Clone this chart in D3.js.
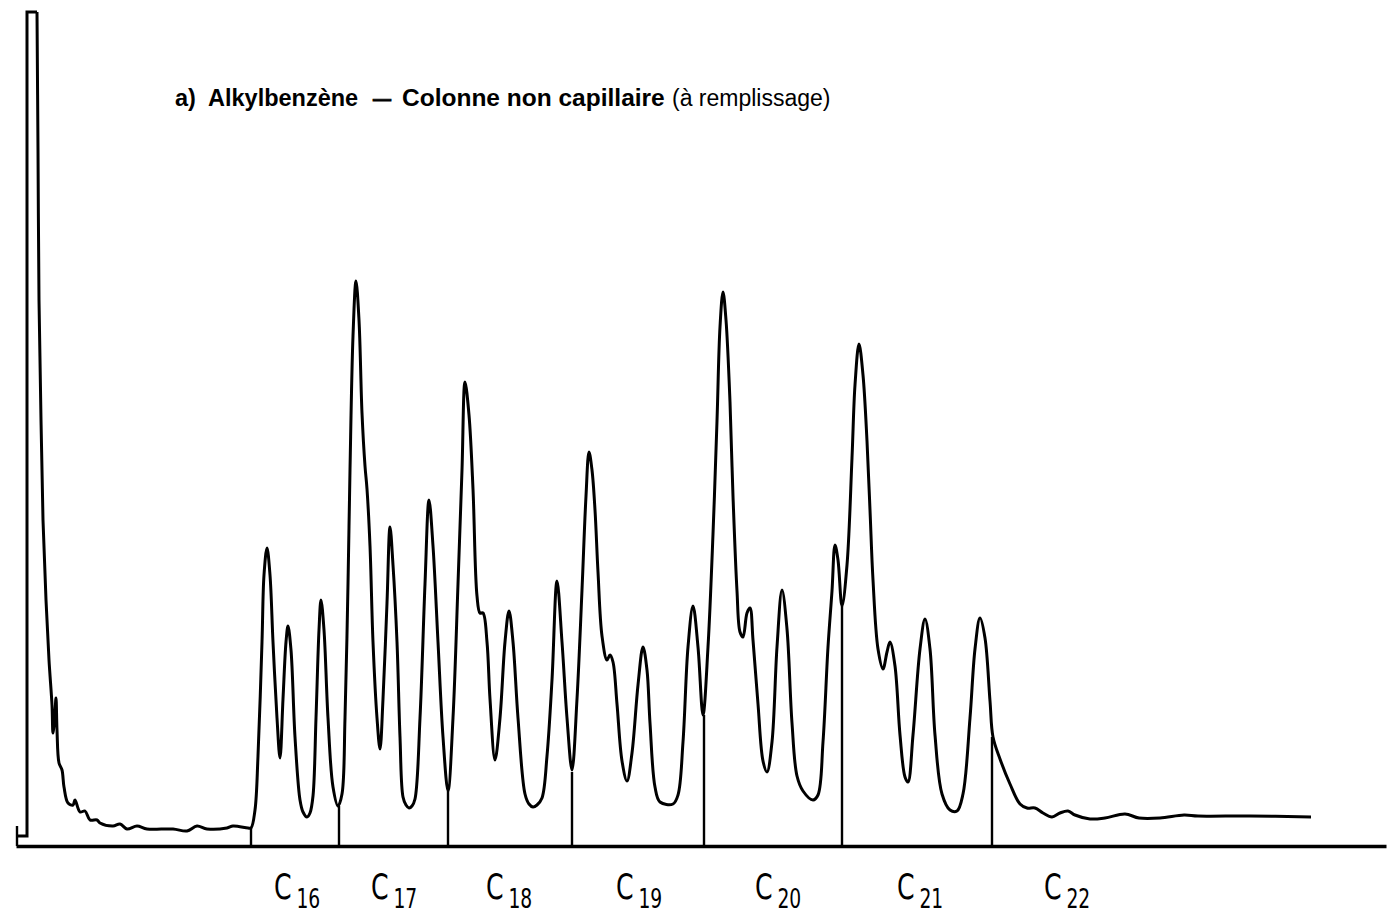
<!DOCTYPE html>
<html>
<head>
<meta charset="utf-8">
<script src="https://cdn.jsdelivr.net/npm/d3@7"></script>
<style>
  body { margin: 0; background: #fff; }
  svg { display: block; }
</style>
</head>
<body>
<script>
// chromatogram, retention time in arbitrary chart units, signal in % of full scale
var traceTime = [
  2.1, 2.2, 2.3, 2.5, 2.7, 3.0, 3.3, 3.6, 3.7, 3.9,
  4.0, 4.1, 4.3, 4.6, 4.8, 5.2, 5.7, 5.9, 6.4, 6.9,
  7.4, 8.1, 8.4, 9.7, 10.4, 11.1, 12.1, 13.1, 15.7, 17.1,
  18.1, 19.1, 21.1, 21.7, 23.2, 23.5, 23.9, 24.2, 24.6, 24.8,
  25.1, 25.4, 25.7, 26.1, 26.4, 26.7, 27.0, 27.2, 27.5, 27.9,
  28.4, 28.7, 29.1, 29.4, 29.7, 30.0, 30.3, 30.5, 30.8, 31.2,
  31.7, 32.2, 32.6, 32.9, 33.2, 33.4, 33.7, 34.0, 34.3, 34.6,
  34.9, 35.1, 35.4, 35.7, 36.1, 36.4, 36.7, 37.1, 37.4, 37.7,
  38.1, 38.4, 38.7, 39.0, 39.3, 39.6, 39.9, 40.4, 40.9, 41.3,
  41.7, 42.2, 42.7, 43.2, 43.7, 44.2, 44.6, 44.9, 45.3, 45.7,
  46.1, 46.4, 46.7, 47.1, 47.4, 47.9, 48.4, 48.9, 49.3, 49.7,
  50.2, 50.9, 51.3, 51.7, 52.1, 52.6, 53.1, 53.6, 54.1, 54.6,
  55.1, 55.6, 56.1, 56.6, 57.0, 57.3, 57.6, 57.9, 58.2, 58.6,
  59.1, 59.4, 59.7, 60.1, 60.6, 61.1, 61.6, 62.2, 62.7, 63.1,
  63.4, 63.9, 64.4, 65.7, 66.2, 66.7, 67.2, 67.7, 68.2, 68.7,
  69.2, 69.7, 70.1, 70.4, 70.7, 71.0, 71.4, 71.7, 72.1, 72.4,
  72.7, 73.1, 73.4, 73.7, 74.2, 74.7, 75.1, 75.6, 76.1, 76.6,
  77.1, 77.6, 78.1, 78.7, 79.7, 80.2, 80.7, 81.2, 81.6, 81.9,
  82.2, 82.6, 83.1, 83.6, 83.9, 84.3, 84.7, 85.1, 85.4, 85.7,
  86.2, 86.7, 87.1, 87.4, 87.9, 88.4, 88.9, 89.2, 89.7, 90.4,
  90.9, 91.4, 91.9, 92.6, 93.4, 94.1, 94.7, 95.4, 95.9, 96.4,
  96.9, 97.4, 97.7, 98.4, 99.4, 100.4, 101.1, 101.9, 102.7, 103.6,
  104.4, 105.2, 105.9, 107.4, 108.9, 110.9, 112.3, 114.4, 116.8, 118.2,
  123.4, 129.5
];
var traceSignal = [
  83.4, 69.6, 54.6, 42.6, 32.6, 24.6, 18.6, 14.1, 11.3, 13.4,
  14.8, 11.6, 8.3, 7.6, 5.9, 4.3, 4.1, 4.6, 3.4, 3.5,
  2.6, 2.6, 2.3, 2.0, 2.2, 1.7, 2.0, 1.7, 1.7, 1.5,
  2.0, 1.7, 1.8, 2.0, 1.8, 1.8, 3.6, 9.0, 20.4, 27.1,
  29.8, 27.1, 20.4, 12.8, 8.8, 14.7, 20.4, 22.0, 19.6, 10.9,
  4.6, 3.4, 2.9, 3.3, 5.0, 12.8, 21.6, 24.6, 21.6, 12.8,
  5.9, 4.0, 5.2, 12.8, 26.2, 37.6, 51.0, 56.5, 52.6, 43.3,
  38.0, 35.7, 30.0, 20.4, 12.8, 9.7, 14.7, 24.3, 31.9, 28.1,
  20.4, 10.9, 4.9, 4.1, 3.8, 4.0, 4.7, 12.8, 26.2, 34.6,
  30.0, 20.4, 10.9, 5.5, 12.8, 26.2, 37.6, 46.4, 43.1, 35.7,
  25.0, 23.3, 23.3, 20.4, 14.7, 8.6, 12.8, 20.4, 23.5, 20.4,
  12.8, 5.2, 4.2, 3.9, 4.1, 4.8, 9.0, 16.6, 26.5, 20.4,
  12.8, 7.6, 14.7, 25.6, 35.0, 39.4, 37.6, 33.6, 27.4, 21.0,
  18.6, 19.1, 18.4, 14.2, 8.5, 6.5, 9.3, 16.1, 19.9, 17.6,
  12.3, 5.9, 4.4, 4.2, 5.1, 10.4, 19.9, 24.0, 19.9, 13.1,
  19.9, 31.2, 42.5, 51.9, 55.4, 52.6, 44.4, 35.0, 25.5, 21.4,
  20.9, 23.3, 23.8, 20.6, 14.2, 8.5, 7.4, 10.4, 19.9, 25.6,
  21.7, 12.3, 7.0, 5.5, 4.6, 5.1, 10.4, 19.9, 25.5, 30.1,
  28.6, 24.0, 28.1, 38.8, 46.1, 50.2, 47.1, 40.5, 33.6, 26.6,
  19.7, 17.7, 19.4, 20.4, 18.0, 11.1, 6.9, 6.4, 11.1, 19.7,
  22.7, 19.7, 11.1, 5.2, 3.6, 3.5, 5.2, 12.8, 19.7, 22.8,
  20.8, 14.5, 10.9, 8.7, 6.2, 4.2, 3.8, 3.8, 3.3, 2.9,
  3.3, 3.5, 3.1, 2.7, 2.8, 3.2, 2.8, 2.8, 3.1, 3.0,
  3.0, 2.9
];
// injection pulse (off scale)
var pulseTime = [0.1, 1.1, 1.1, 2.1];
var pulseSignal = [1.0, 1.0, 83.4, 83.4];
// integration cut marks between carbon-number groups
var cutTime = [23.5, 32.3, 43.2, 55.6, 68.8, 82.6, 97.6];
var cutSignal = [1.8, 4.0, 5.5, 7.4, 13.1, 24.0, 10.9];
// carbon number labels
var carbonNumbers = [16, 17, 18, 19, 20, 21, 22];
var carbonLabelTime = [25.8, 35.5, 47.0, 60.0, 73.9, 88.1, 102.8];

var width = 1393;
var height = 914;
var svg = d3.select('body')
    .append('svg')
    .attr('width', width)
    .attr('height', height);

var x = d3.scaleLinear()
    .domain([0, 137])
    .range([16, 1386]);
var y = d3.scaleLinear()
    .domain([0, 83.6])
    .range([846, 10]);

// baseline axis, no ticks
var xAxis = d3.axisBottom(x).tickValues([]).tickSizeOuter(0);
var axisGroup = svg.append('g')
    .attr('transform', 'translate(0,' + y(0) + ')')
    .call(xAxis);
axisGroup.select('.domain')
    .attr('stroke', '#000')
    .attr('stroke-width', 3.4);

// recorder start tick
svg.append('line')
    .attr('x1', x(0.1)).attr('x2', x(0.1))
    .attr('y1', y(0)).attr('y2', y(2.0))
    .attr('stroke', '#000')
    .attr('stroke-width', 2.4);

var pulse = pulseTime.map(function (t, i) { return [t, pulseSignal[i]]; });
var trace = traceTime.map(function (t, i) { return [t, traceSignal[i]]; });

svg.append('path')
    .datum(pulse)
    .attr('fill', 'none')
    .attr('stroke', '#000')
    .attr('stroke-width', 3)
    .attr('stroke-linejoin', 'miter')
    .attr('d', d3.line()
        .x(function (d) { return x(d[0]); })
        .y(function (d) { return y(d[1]); }));

svg.append('path')
    .datum(trace)
    .attr('fill', 'none')
    .attr('stroke', '#000')
    .attr('stroke-width', 3)
    .attr('stroke-linejoin', 'round')
    .attr('d', d3.line()
        .curve(d3.curveCatmullRom.alpha(0.5))
        .x(function (d) { return x(d[0]); })
        .y(function (d) { return y(d[1]); }));

svg.append('g')
    .selectAll('line')
    .data(cutTime)
    .enter()
    .append('line')
    .attr('x1', function (d) { return x(d); })
    .attr('x2', function (d) { return x(d); })
    .attr('y1', y(0))
    .attr('y2', function (d, i) { return y(cutSignal[i]); })
    .attr('stroke', '#000')
    .attr('stroke-width', 2.4);

// labels C16 ... C22, condensed lettering
var labels = svg.append('g')
    .attr('font-family', '"DejaVu Sans Condensed", "DejaVu Sans", sans-serif')
    .attr('fill', '#000');
var lab = labels.selectAll('text')
    .data(carbonNumbers)
    .enter()
    .append('text')
    .attr('transform', function (d, i) { return 'translate(' + x(carbonLabelTime[i]) + ',899) scale(0.8,1)'; });
lab.append('tspan')
    .attr('font-size', 35)
    .text('C');
lab.append('tspan')
    .attr('dx', 6)
    .attr('dy', 9)
    .attr('font-size', 26)
    .text(function (d) { return d; });

// title
var title = svg.append('g')
    .attr('font-family', '"Liberation Sans", Arial, sans-serif')
    .attr('fill', '#000');
title.append('text').attr('x', 175).attr('y', 106)
    .attr('font-size', 23.5).attr('font-weight', 'bold').text('a)');
title.append('text').attr('x', 208).attr('y', 106)
    .attr('font-size', 23.5).attr('font-weight', 'bold').text('Alkylbenzène');
title.append('text').attr('x', 373).attr('y', 105)
    .attr('font-size', 18).attr('font-weight', 'bold')
    .attr('stroke', '#000').attr('stroke-width', 0.9).text('—');
title.append('text').attr('x', 402).attr('y', 106)
    .attr('font-size', 24.5).attr('font-weight', 'bold').text('Colonne non capillaire');
title.append('text').attr('x', 672).attr('y', 106)
    .attr('font-size', 23).text('(à remplissage)');
</script>
</body>
</html>
